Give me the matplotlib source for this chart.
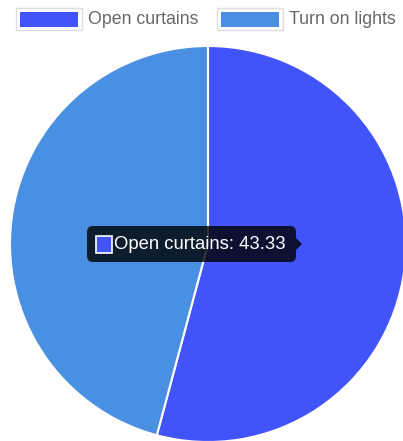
import matplotlib
matplotlib.use("Agg")
import matplotlib.pyplot as plt
from matplotlib.patches import FancyBboxPatch, Rectangle, Polygon

labels = ["Open curtains", "Turn on lights"]
values = [43.33, 36.67]
colors = ["#4054FA", "#4A90E2"]
tooltip_index = 0

W, H = 403, 441
fig = plt.figure(figsize=(W / 100, H / 100), dpi=100)
ax = fig.add_axes([0, 0, 1, 1])
ax.set_xlim(0, W)
ax.set_ylim(0, H)
ax.set_aspect("equal")
ax.axis("off")

def py(y):
    return H - y

# pie
ax.pie(values, colors=colors, startangle=90, counterclock=False,
       center=(208, py(244)), radius=198, frame=True,
       wedgeprops=dict(edgecolor="white", linewidth=1.5))
ax.set_xlim(0, W)
ax.set_ylim(0, H)
ax.axis("off")

# legend
font = "Liberation Sans"
legend_x = [16, 217]
for x0, lab, col in zip(legend_x, labels, colors):
    ax.add_patch(Rectangle((x0, py(30)), 66, 22, facecolor="white",
                           edgecolor="#DDDDDD", linewidth=1))
    ax.add_patch(Rectangle((x0 + 4, py(26.5)), 58, 15, facecolor=col,
                           edgecolor="none"))
    ax.text(x0 + 72, py(20), lab, fontsize=12.8, color="#666666",
            family=font, ha="left", va="center")

# tooltip
tx0, tx1, ty0, ty1 = 87, 296, 226, 262
box = FancyBboxPatch((tx0, py(ty1)), tx1 - tx0, ty1 - ty0,
                     boxstyle="round,pad=0,rounding_size=6",
                     facecolor=(0, 0, 0, 0.8), edgecolor="none")
ax.add_patch(box)
ymid = (ty0 + ty1) / 2
ax.add_patch(Polygon([(tx1, py(ymid - 6)), (tx1 + 6, py(ymid)),
                      (tx1, py(ymid + 6))], closed=True,
                     facecolor=(0, 0, 0, 0.8), edgecolor="none"))
ax.add_patch(Rectangle((96, py(253)), 16, 17, facecolor=colors[tooltip_index],
                       edgecolor="white", linewidth=1.2))
ax.text(114, py(ymid + 0.5),
        f"{labels[tooltip_index]}: {values[tooltip_index]:.2f}",
        fontsize=13.3, color="white", family=font, ha="left", va="center")

fig.savefig("out.png", dpi=100)
